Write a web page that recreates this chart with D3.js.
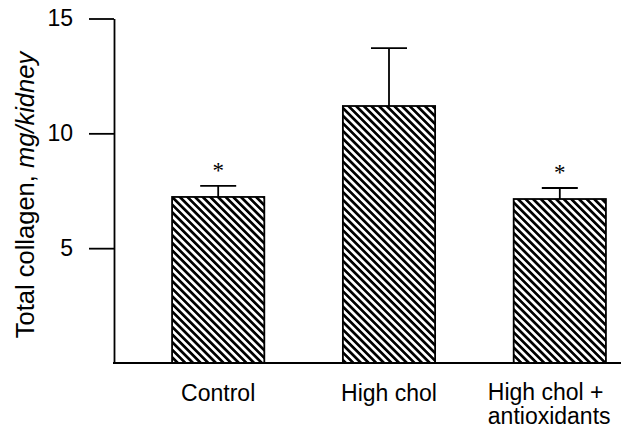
<!DOCTYPE html>
<html>
<head>
<meta charset="utf-8">
<script src="https://cdn.jsdelivr.net/npm/d3@7/dist/d3.min.js"></script>
<style>
  html, body { margin: 0; padding: 0; background: #fff; }
  svg { display: block; font-family: "Liberation Sans", Arial, Helvetica, sans-serif; }
</style>
</head>
<body>
<svg id="chart" width="621" height="430"></svg>
<script>
const categories = ["Control", "High chol", "High chol + antioxidants"];
const categoryLines = [["Control"], ["High chol"], ["High chol +", "antioxidants"]];
const means = [7.23, 11.19, 7.14];
const errors = [0.48, 2.52, 0.48];
const significant = [true, false, true];
const yTicks = [5, 10, 15];

const svg = d3.select("#chart");

const y = d3.scaleLinear().domain([0, 15]).range([363, 18.5]);
const x = d3.scaleBand().domain(categories).range([155, 623])
  .paddingInner(0.46).paddingOuter(0.1);

// hatch pattern
const defs = svg.append("defs");
const P = 5.4;
const pat = defs.append("pattern")
  .attr("id", "hatch")
  .attr("patternUnits", "userSpaceOnUse")
  .attr("width", P).attr("height", P)
  .attr("patternTransform", "rotate(45)");
pat.append("rect").attr("width", P).attr("height", P).attr("fill", "#fff");
pat.append("line").attr("x1", 0).attr("y1", P / 4).attr("x2", P).attr("y2", P / 4)
  .attr("stroke", "#000").attr("stroke-width", P / 2);

// bars
svg.append("g").selectAll("rect").data(categories).join("rect")
  .attr("x", d => x(d))
  .attr("y", (d, i) => y(means[i]))
  .attr("width", x.bandwidth())
  .attr("height", (d, i) => y(0) - y(means[i]))
  .attr("fill", "url(#hatch)")
  .attr("stroke", "#000")
  .attr("stroke-width", 1.8);

// error bars (upper only)
const eb = svg.append("g").attr("stroke", "#000").attr("stroke-width", 1.8);
categories.forEach((c, i) => {
  const cx = x(c) + x.bandwidth() / 2;
  eb.append("line").attr("x1", cx).attr("x2", cx)
    .attr("y1", y(means[i])).attr("y2", y(means[i] + errors[i]));
  eb.append("line").attr("x1", cx - 18).attr("x2", cx + 18)
    .attr("y1", y(means[i] + errors[i])).attr("y2", y(means[i] + errors[i]));
  if (significant[i]) {
    svg.append("text").attr("x", cx).attr("y", y(means[i] + errors[i]) - 8)
      .attr("text-anchor", "middle").attr("font-size", 23)
      .attr("font-family", "'Liberation Serif', 'Times New Roman', serif")
      .attr("fill", "#000").text("*");
  }
});

// y axis
const yAxis = d3.axisLeft(y).tickValues(yTicks).tickSize(25).tickSizeOuter(0).tickPadding(16);
const gy = svg.append("g").attr("transform", "translate(114,0)").call(yAxis);
gy.select(".domain").attr("stroke-width", 1.8);
gy.selectAll(".tick line").attr("stroke-width", 1.8);
gy.selectAll(".tick text").attr("font-size", 23).attr("fill", "#000")
  .attr("font-family", "'Liberation Sans', Arial, sans-serif");

// x axis baseline
svg.append("line").attr("x1", 113).attr("x2", 621)
  .attr("y1", y(0)).attr("y2", y(0))
  .attr("stroke", "#000").attr("stroke-width", 1.8);

// category labels
categories.forEach((c, i) => {
  const cx = x(c) + x.bandwidth() / 2;
  const lines = categoryLines[i];
  const t = svg.append("text").attr("font-size", 23).attr("fill", "#000");
  if (lines.length === 1) {
    t.attr("x", cx).attr("y", 401).attr("text-anchor", "middle").text(lines[0]);
  } else {
    lines.forEach((l, j) => {
      t.append("tspan").attr("x", cx - 72).attr("y", 400 + j * 24).text(l);
    });
  }
});

// y label
const yl = svg.append("text")
  .attr("transform", "translate(34,195) rotate(-90)")
  .attr("text-anchor", "middle")
  .attr("font-size", 25.5).attr("fill", "#000");
yl.append("tspan").text("Total collagen, ");
yl.append("tspan").attr("font-style", "italic").text("mg/kidney");
</script>
</body>
</html>
